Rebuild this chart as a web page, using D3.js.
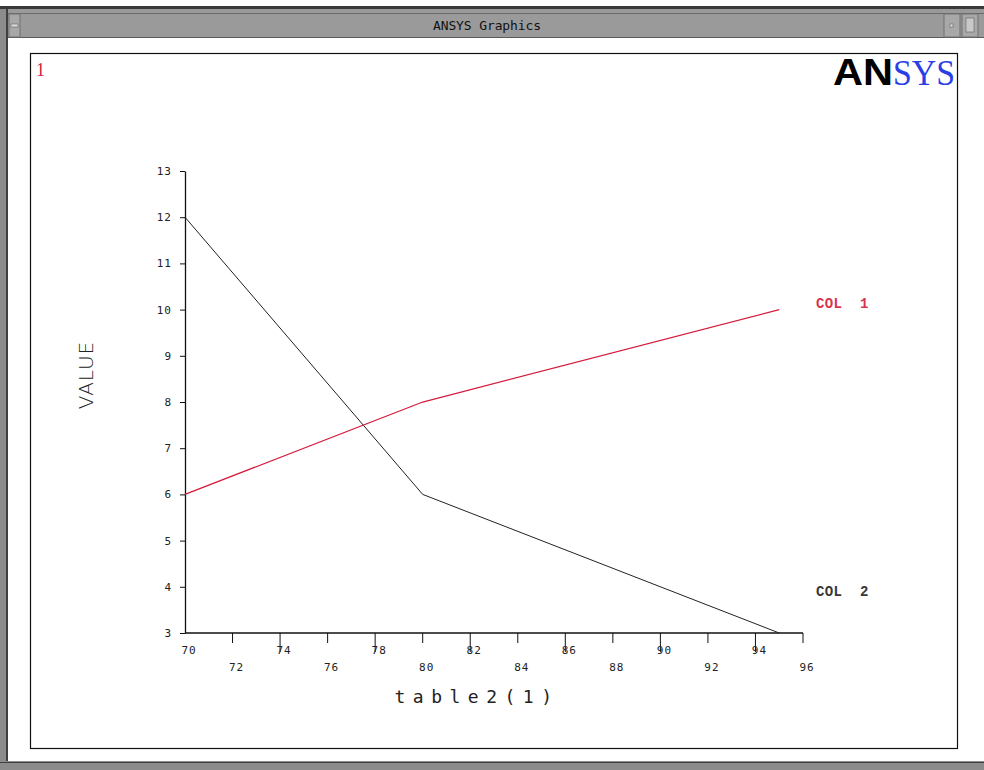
<!DOCTYPE html>
<html>
<head>
<meta charset="utf-8">
<script src="https://cdn.jsdelivr.net/npm/d3@7"></script>
<style>
  body { margin: 0; background: #fff; }
  svg { display: block; }
</style>
</head>
<body>
<div id="chart"></div>
<script>
// data
const xValues = [70, 80, 95];
const col1 = [6, 8, 10];
const col2 = [12, 6, 3];
const seriesNames = ['COL  1', 'COL  2'];
const xTicks = [70, 72, 74, 76, 78, 80, 82, 84, 86, 88, 90, 92, 94, 96];
const yTicks = [3, 4, 5, 6, 7, 8, 9, 10, 11, 12, 13];

const width = 984, height = 770;
const plot = { left: 185, right: 803, top: 171, bottom: 633 };

const svg = d3.select('#chart').append('svg').attr('width', width).attr('height', height);

// window chrome
const drawWindow = () => {
  svg.append('rect').attr('x', 0).attr('y', 0).attr('width', width).attr('height', height).attr('fill', '#fff');
  svg.append('rect').attr('x', 0).attr('y', 6).attr('width', width).attr('height', 3).attr('fill', '#3a3a3a');
  svg.append('rect').attr('x', 0).attr('y', 9).attr('width', 8).attr('height', 752).attr('fill', '#8c8c8c');
  svg.append('rect').attr('x', 6).attr('y', 9).attr('width', 2).attr('height', 752).attr('fill', '#404040');
  svg.append('rect').attr('x', 8).attr('y', 9).attr('width', width - 8).attr('height', 29).attr('fill', '#9a9a9a');
  svg.append('line').attr('x1', 8).attr('x2', width).attr('y1', 13.5).attr('y2', 13.5).attr('stroke', '#6a6a6a');
  svg.append('line').attr('x1', 8).attr('x2', width).attr('y1', 37.5).attr('y2', 37.5).attr('stroke', '#5a5a5a');
  // title bar buttons
  svg.append('rect').attr('x', 9).attr('y', 14).attr('width', 11).attr('height', 23).attr('fill', '#a8a8a8').attr('stroke', '#707070');
  svg.append('rect').attr('x', 11).attr('y', 24).attr('width', 7).attr('height', 3).attr('fill', '#d8d8d8').attr('stroke', '#505050').attr('stroke-width', 0.5);
  svg.append('rect').attr('x', 944).attr('y', 14).attr('width', 16).attr('height', 23).attr('fill', '#a8a8a8').attr('stroke', '#707070');
  svg.append('rect').attr('x', 962).attr('y', 14).attr('width', 16).attr('height', 23).attr('fill', '#a8a8a8').attr('stroke', '#707070');
  svg.append('rect').attr('x', 950).attr('y', 24).attr('width', 3).attr('height', 3).attr('fill', '#e0e0e0').attr('stroke', '#505050').attr('stroke-width', 0.5);
  svg.append('rect').attr('x', 966).attr('y', 18).attr('width', 8).attr('height', 14).attr('fill', '#c8c8c8').attr('stroke', '#505050').attr('stroke-width', 0.5);
  svg.append('text').attr('x', 487).attr('y', 30).attr('text-anchor', 'middle')
    .attr('font-family', 'DejaVu Sans Mono').attr('font-size', 13).attr('fill', '#111')
    .attr('textLength', 108).text('ANSYS Graphics');
  // bottom border
  svg.append('rect').attr('x', 0).attr('y', 761).attr('width', width).attr('height', 9).attr('fill', '#8c8c8c');
  svg.append('line').attr('x1', 0).attr('x2', width).attr('y1', 762.5).attr('y2', 762.5).attr('stroke', '#404040');
  // plot frame
  svg.append('rect').attr('x', 30.5).attr('y', 53.5).attr('width', 927).attr('height', 695)
    .attr('fill', 'none').attr('stroke', '#111').attr('stroke-width', 1.2);
}

const x = d3.scaleLinear().domain([70, 96]).range([plot.left, plot.right]);
const y = d3.scaleLinear().domain([3, 13]).range([plot.bottom, plot.top]);

const tickFont = 'DejaVu Sans Mono';

const drawAxes = () => {
  // y axis
  const yAxis = d3.axisLeft(y).tickValues(yTicks).tickSize(5).tickPadding(8).tickSizeOuter(0);
  const gy = svg.append('g').attr('transform', `translate(${plot.left},0)`).call(yAxis);
  gy.select('.domain').attr('stroke', '#111').attr('stroke-width', 1.3);
  gy.selectAll('.tick line').attr('stroke', '#111');
  gy.selectAll('.tick text').attr('font-family', tickFont).attr('font-size', 11).attr('fill', '#222')
    .attr('letter-spacing', 1);

  // x axis with alternating tick lengths
  const gx = svg.append('g').attr('transform', `translate(0,${plot.bottom})`);
  gx.append('line').attr('x1', plot.left).attr('x2', plot.right).attr('y1', 0).attr('y2', 0)
    .attr('stroke', '#111').attr('stroke-width', 1.3);
  const ticks = gx.selectAll('g.tick').data(xTicks).enter().append('g').attr('class', 'tick')
    .attr('transform', d => `translate(${x(d)},0)`);
  ticks.filter((d, i) => i > 0).append('line')
    .attr('y1', 0).attr('y2', (d, i) => ((i + 1) % 2 ? 10 : 19))
    .attr('stroke', '#111');
  ticks.append('text')
    .attr('x', 4)
    .attr('y', (d, i) => (i % 2 ? 38 : 21))
    .attr('text-anchor', 'middle')
    .attr('font-family', tickFont).attr('font-size', 11).attr('fill', '#222').attr('letter-spacing', 1)
    .text(d => d);
}

const drawLines = () => {
  const line = d3.line().x((d, i) => x(xValues[i])).y(d => y(d));
  svg.append('path').datum(col2).attr('d', line).attr('fill', 'none').attr('stroke', '#222').attr('stroke-width', 1);
  svg.append('path').datum(col1).attr('d', line).attr('fill', 'none').attr('stroke', '#d41c3c').attr('stroke-width', 1.3);

  const labels = [
    { name: seriesNames[0], v: col1[col1.length - 1], color: '#d41c3c' },
    { name: seriesNames[1], v: col2[col2.length - 1] + 0.75, color: '#222' }
  ];
  svg.selectAll('text.series').data(labels).enter().append('text').attr('class', 'series')
    .attr('x', 816).attr('y', d => y(d.v) - 2)
    .attr('font-family', 'Liberation Mono').attr('font-weight', 'bold').attr('font-size', 14)
    .attr('fill', d => d.color).attr('letter-spacing', 0.4).attr('opacity', 0.9)
    .attr('xml:space', 'preserve').style('white-space', 'pre')
    .text(d => d.name);
}

const drawLabels = () => {
  svg.append('text').attr('transform', 'translate(93,375) rotate(-90)').attr('text-anchor', 'middle')
    .attr('font-family', 'DejaVu Sans').attr('font-weight', 200).attr('font-size', 20).attr('fill', '#222')
    .attr('letter-spacing', 1).text('VALUE');
  svg.append('text').attr('x', 477).attr('y', 703).attr('text-anchor', 'middle')
    .attr('font-family', 'DejaVu Sans Mono').attr('font-size', 18).attr('fill', '#222')
    .attr('letter-spacing', 7.5).text('table2(1)');
  svg.append('text').attr('x', 36).attr('y', 76)
    .attr('font-family', 'Liberation Serif').attr('font-size', 18).attr('fill', '#d41c3c').text('1');
  // logo
  svg.append('text').attr('x', 833).attr('y', 85)
    .attr('font-family', 'Liberation Sans').attr('font-weight', 'bold')
    .attr('font-size', 36).attr('fill', '#000')
    .attr('textLength', 60).attr('lengthAdjust', 'spacingAndGlyphs').text('AN');
  svg.append('text').attr('x', 955).attr('y', 85).attr('text-anchor', 'end')
    .attr('font-family', 'Liberation Serif')
    .attr('font-size', 36).attr('fill', '#2a3ee8')
    .attr('textLength', 62).attr('lengthAdjust', 'spacingAndGlyphs').text('SYS');
}

drawWindow();
drawAxes();
drawLines();
drawLabels();
</script>
</body>
</html>
